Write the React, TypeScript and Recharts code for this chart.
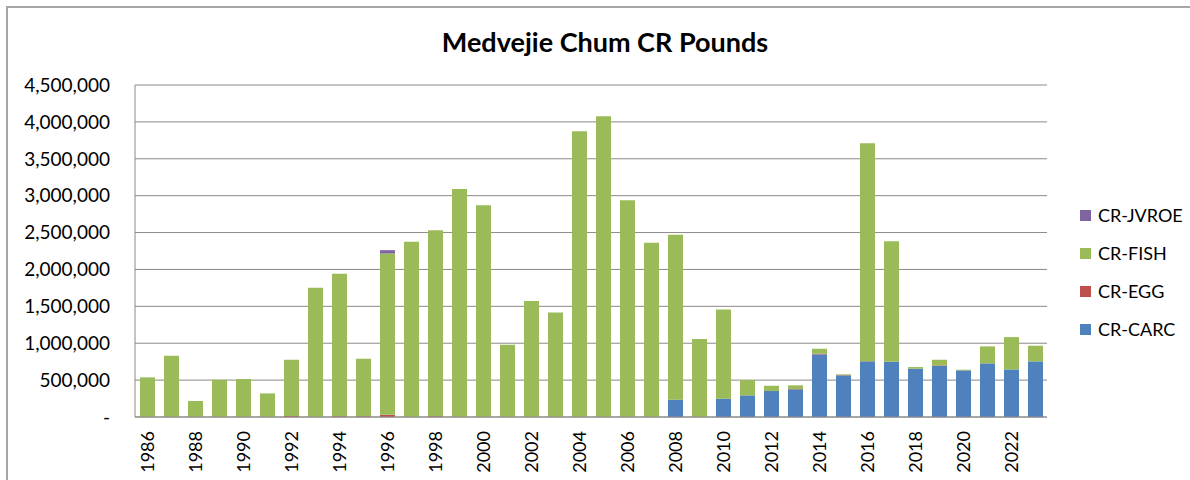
import { BarChart, Bar, XAxis, YAxis, CartesianGrid } from 'recharts';

const years = [
    '1986', '1987', '1988', '1989', '1990', '1991', '1992', '1993', '1994', '1995',
    '1996', '1997', '1998', '1999', '2000', '2001', '2002', '2003', '2004', '2005',
    '2006', '2007', '2008', '2009', '2010', '2011', '2012', '2013', '2014', '2015',
    '2016', '2017', '2018', '2019', '2020', '2021', '2022', '2023',
];

const carc = [
    0, 0, 0, 0, 0, 0, 0, 0, 0, 0,
    0, 0, 0, 0, 0, 0, 0, 0, 0, 0,
    0, 0, 235000, 0, 248000, 293000, 352000, 375000, 849000, 564000,
    754000, 749000, 655000, 691000, 632000, 727000, 645000, 754000,
];

const egg = [
    0, 0, 0, 0, 0, 0, 12000, 0, 10000, 10000,
    30000, 0, 10000, 0, 0, 0, 0, 0, 0, 0,
    0, 0, 0, 0, 0, 0, 0, 5000, 8000, 4000,
    3000, 0, 0, 8000, 0, 0, 0, 0,
];

const fish = [
    537000, 830000, 217000, 505000, 515000, 320000, 764000, 1751000, 1931000, 780000,
    2186000, 2374000, 2522000, 3092000, 2871000, 980000, 1571000, 1417000, 3873000, 4076000,
    2939000, 2361000, 2234000, 1056000, 1210000, 208000, 72000, 49000, 68000, 10000,
    2952000, 1634000, 22000, 77000, 9000, 230000, 438000, 212000,
];

const jvroe = [
    0, 0, 0, 0, 0, 0, 0, 0, 0, 0,
    45000, 0, 0, 0, 0, 0, 0, 0, 0, 0,
    0, 0, 0, 0, 0, 0, 0, 0, 0, 0,
    0, 0, 0, 0, 0, 0, 0, 0,
];

const yTicks = [0, 500000, 1000000, 1500000, 2000000, 2500000, 3000000, 3500000, 4000000, 4500000];

// stacking order bottom -> top
const series = [
    { key: 'carc', name: 'CR-CARC', color: '#4F81BD' },
    { key: 'egg', name: 'CR-EGG', color: '#C0504D' },
    { key: 'fish', name: 'CR-FISH', color: '#9BBB59' },
    { key: 'jvroe', name: 'CR-JVROE', color: '#8064A2' },
];

const rows = years.map((year, i) => ({
    year,
    carc: carc[i],
    egg: egg[i],
    fish: fish[i],
    jvroe: jvroe[i],
}));

const FONT = 'Lato, "Open Sans", sans-serif';

function formatTick(v: number) {
    if (v === 0) return '-';
    return Number(v).toLocaleString('en-US');
}

function YearTick(props: any) {
    const { x, y, payload } = props;
    const ty = y + 6;
    return (
        <text
            x={x}
            y={ty}
            transform={`rotate(-90, ${x}, ${ty})`}
            textAnchor="end"
            dominantBaseline="central"
            fontSize={18}
            fontFamily={FONT}
            fill="#000"
        >
            {payload.value}
        </text>
    );
}

export default function App() {
    return (
        <div
            style={{
                position: 'absolute',
                left: 0,
                top: 0,
                width: 1190,
                height: 480,
                background: '#fff',
                fontFamily: FONT,
                overflow: 'hidden',
            }}
        >
            <div
                style={{
                    position: 'absolute',
                    left: 6,
                    top: 6,
                    width: 1200,
                    height: 500,
                    borderTop: '2px solid #a6a6a6',
                    borderLeft: '2px solid #a6a6a6',
                }}
            />
            <div
                style={{
                    position: 'absolute',
                    left: 405,
                    width: 400,
                    top: 25,
                    textAlign: 'center',
                    fontSize: 27,
                    fontWeight: 700,
                    color: '#000',
                }}
            >
                Medvejie Chum CR Pounds
            </div>

            <BarChart
                width={1190}
                height={480}
                data={rows}
                margin={{ top: 85, right: 143, left: 0, bottom: 0 }}
                style={{ position: 'absolute', left: 0, top: 0 }}
            >
                <CartesianGrid vertical={false} stroke="#8a8a8a" />
                <XAxis
                    dataKey="year"
                    interval={1}
                    tickLine={false}
                    axisLine={{ stroke: '#8a8a8a' }}
                    tick={<YearTick />}
                    height={63}
                />
                <YAxis
                    width={135}
                    domain={[0, 4500000]}
                    ticks={yTicks}
                    tickFormatter={(v) => formatTick(Number(v))}
                    tickLine={false}
                    tickSize={0}
                    tickMargin={25}
                    axisLine={{ stroke: '#8a8a8a' }}
                    tick={{ fontSize: 19, fill: '#000', fontFamily: FONT }}
                    interval={0}
                />
                {series.map((s) => (
                    <Bar
                        key={s.key}
                        dataKey={s.key}
                        name={s.name}
                        stackId="a"
                        fill={s.color}
                        barSize={15}
                        isAnimationActive={false}
                    />
                ))}
            </BarChart>

            <div style={{ position: 'absolute', left: 1080, top: 196 }}>
                {[...series].reverse().map((s) => (
                    <div
                        key={s.key}
                        style={{
                            display: 'flex',
                            alignItems: 'center',
                            height: 38,
                            fontSize: 18,
                            color: '#000',
                        }}
                    >
                        <span
                            style={{
                                display: 'inline-block',
                                width: 11,
                                height: 11,
                                background: s.color,
                                marginRight: 7,
                            }}
                        />
                        {s.name}
                    </div>
                ))}
            </div>
        </div>
    );
}
